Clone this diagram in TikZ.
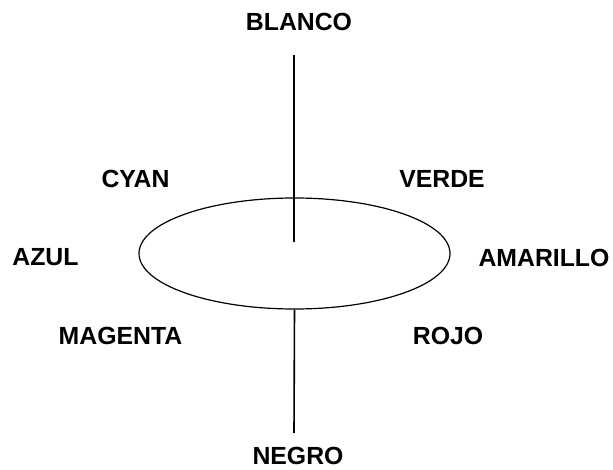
\documentclass[tikz,border=0pt]{standalone}
\usepackage{fontspec}
\setmainfont{Liberation Sans}
\usetikzlibrary{shapes.geometric}
\tikzset{
  lbl/.style={font=\fontsize{24.8}{29}\selectfont\bfseries, inner sep=0pt},
  axisln/.style={line width=1.6pt},
  rim/.style={draw, ellipse, line width=1.2pt, inner sep=0pt},
}

\begin{document}
\begin{tikzpicture}[x=1pt, y=-1pt]
  \useasboundingbox (0,0) rectangle (613,470);
  % axis ends
  \node[lbl] (blanco) at (299,22) {BLANCO};
  \node[lbl] (negro) at (298,455.5) {NEGRO};
  % ring of hues
  \node[rim, minimum width=311pt, minimum height=111pt] (disco) at (294.5,253.5) {};
  \node[lbl] (cyan) at (135.5,178.5) {CYAN};
  \node[lbl] (verde) at (442,178.5) {VERDE};
  \node[lbl] (azul) at (45.5,257.5) {AZUL};
  \node[lbl] (amarillo) at (544,257.5) {AMARILLO};
  \node[lbl] (magenta) at (120.5,335.5) {MAGENTA};
  \node[lbl] (rojo) at (448,335.5) {ROJO};
  \coordinate (arriba) at (294,55.5);
  \coordinate (dentro) at (294,242);
  \coordinate (abajo) at (294,433);
  \draw[axisln] (arriba) -- (dentro);
  \draw[axisln] (disco.south) -- (abajo);
\end{tikzpicture}
\end{document}
